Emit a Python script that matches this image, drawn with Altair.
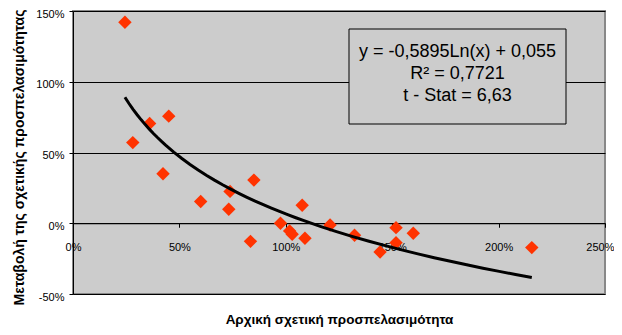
import altair as alt
import pandas as pd

# Data (fractions: 1.0 = 100%)
x_vals = [0.244, 0.281, 0.360, 0.450, 0.423, 0.600, 0.738, 0.732, 0.850, 0.834,
          0.975, 1.018, 1.030, 1.090, 1.077, 1.208, 1.323, 1.443, 1.518, 1.518,
          1.599, 2.156]
y_vals = [1.420, 0.570, 0.705, 0.757, 0.350, 0.154, 0.225, 0.099, 0.305, -0.128,
          0.000, -0.054, -0.078, -0.106, 0.127, -0.012, -0.085, -0.203, -0.031, -0.137,
          -0.071, -0.172]
x_ticks = [0, 0.5, 1.0, 1.5, 2.0, 2.5]
y_ticks = [-0.5, 0, 0.5, 1.0, 1.5]
eq_lines = ["y  = -0,5895Ln(x) + 0,055", "R² = 0,7721", "t - Stat = 6,63"]
x_title = "Αρχική σχετική προσπελασιμότητα"
y_title = "Μεταβολή της σχετικής προσπελασιμότητας"

df = pd.DataFrame({"x": x_vals, "y": y_vals})

W, H = 532, 283
FONT = "Liberation Sans"
BG = "#CCCCCC"

xscale = alt.Scale(domain=[0, 2.5], nice=False, zero=False)
yscale = alt.Scale(domain=[-0.5, 1.5], nice=False)

last_tick = "datum.value >= %s" % x_ticks[-1]

xaxis = alt.Axis(
    values=x_ticks, labelExpr="round(datum.value*100) + '%'",
    offset=-H * 0.25, grid=False, tickSize=4, tickColor="#000",
    domainColor="#000", domainWidth=1, labelPadding=14,
    labelAlign={"condition": {"test": last_tick, "value": "right"}, "value": "center"},
    labelOffset={"condition": {"test": last_tick, "value": 9}, "value": 0},
    labelFont=FONT, labelFontSize=11, labelColor="#000",
    title=x_title, titleFont=FONT, titleFontSize=13.5, titleFontWeight="bold",
    titleColor="#000", titleY=100, titleBaseline="alphabetic",
)
yaxis = alt.Axis(
    values=y_ticks, labelExpr="round(datum.value*100) + '%'",
    grid=True, gridColor="#000", gridWidth=1, tickSize=4, tickColor="#000",
    domainColor="#000", domainWidth=1, labelPadding=5, labelOffset=3,
    labelFont=FONT, labelFontSize=11, labelColor="#000",
    title=y_title, titleFont=FONT, titleFontSize=14, titleFontWeight="bold",
    titleColor="#000", titleX=-50, titleY=146, titleBaseline="alphabetic",
)

base = alt.Chart(df)

points = base.mark_point(shape="diamond", filled=True, size=180,
                         color="#FF3300", opacity=1).encode(
    x=alt.X("x:Q", scale=xscale, axis=xaxis),
    y=alt.Y("y:Q", scale=yscale, axis=yaxis),
)

trend = base.transform_regression("x", "y", method="log").mark_line(
    color="#000", strokeWidth=3).encode(
    x=alt.X("x:Q", scale=xscale),
    y=alt.Y("y:Q", scale=yscale),
)

dummy = alt.Chart(pd.DataFrame({"a": [0]}))
box = dummy.mark_rect(fill=BG, stroke="#000", strokeWidth=1).encode(
    x=alt.value(276), x2=alt.value(493), y=alt.value(18), y2=alt.value(113)
)

texts = []
for i, line in enumerate(eq_lines):
    texts.append(
        dummy.mark_text(text=line, font=FONT, fontSize=18, color="#000",
                        align="center", baseline="middle").encode(
            x=alt.value(384.5), y=alt.value(40.5 + i * 22)
        )
    )

chart = alt.layer(points, trend, box, *texts).properties(
    width=W, height=H,
    autosize=alt.AutoSizeParams(type="none"),
    padding={"left": 65, "top": 3, "right": 9, "bottom": 33},
).configure_view(fill=BG, stroke="#888888", strokeWidth=2)

chart.save("out.html", embed_options={"renderer": "svg", "actions": False})
